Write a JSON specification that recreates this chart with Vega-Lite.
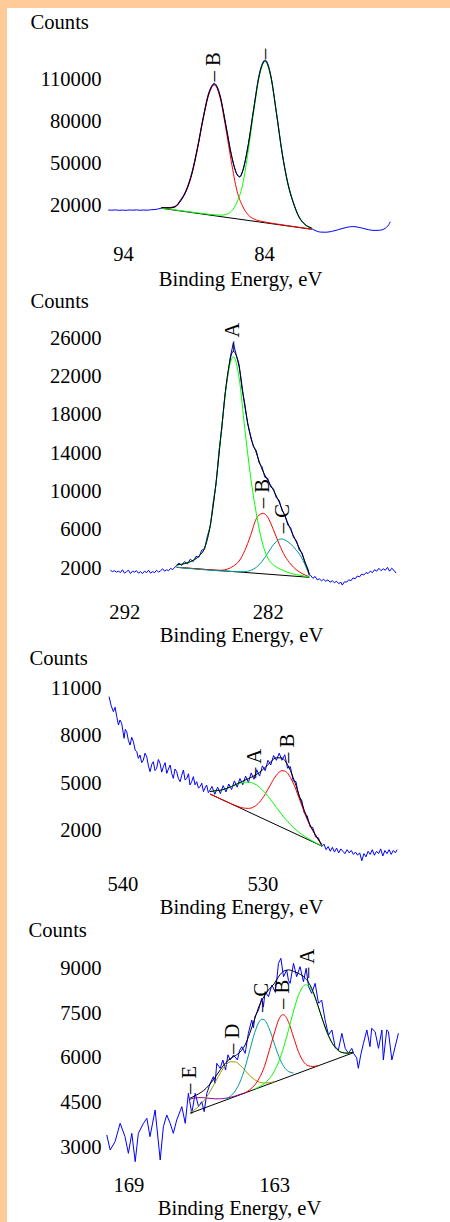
{
"$schema": "https://vega.github.io/schema/vega-lite/v6.json",
"background": "#FFCC99",
"padding": {"left": 7, "top": 8, "right": 0, "bottom": 0},
"spacing": 0,
"bounds": "flush",
"config": {
 "view": {"stroke": null, "fill": "white"},
 "axis": {"labelFont": "Liberation Serif", "labelFontSize": 20.6, "labelColor": "black", "titleFont": "Liberation Serif", "titleFontSize": 20.6, "titleFontWeight": "normal", "titleColor": "black", "domain": false, "ticks": false, "tickSize": 0, "grid": false, "labelOverlap": false, "labelFlush": false, "labelBound": false, "format": "d"},
 "line": {"strokeWidth": 1},
 "text": {"font": "Liberation Serif", "fontSize": 20.6, "color": "black"}
},
"datasets": {
 "p1b": [{"e":95.05,"v":17150},{"e":94.8,"v":17000},{"e":94.55,"v":17250},{"e":94.3,"v":16950},{"e":94.05,"v":17100},{"e":93.8,"v":16900},{"e":93.55,"v":17200},{"e":93.3,"v":17050},{"e":93.05,"v":17250},{"e":92.8,"v":16950},{"e":92.55,"v":17150},{"e":92.3,"v":17000},{"e":92.05,"v":17300},{"e":91.8,"v":17450},{"e":91.55,"v":17800},{"e":91.28,"v":18500},{"e":91.0,"v":18800},{"e":90.72,"v":18900},{"e":90.32,"v":19700},{"e":89.92,"v":24300},{"e":89.52,"v":31400},{"e":89.12,"v":43600},{"e":88.72,"v":61600},{"e":88.32,"v":82700},{"e":87.92,"v":100300},{"e":87.72,"v":105000},{"e":87.52,"v":107000},{"e":87.32,"v":104500},{"e":87.12,"v":98600},{"e":86.72,"v":78300},{"e":86.32,"v":56600},{"e":85.92,"v":42700},{"e":85.72,"v":40800},{"e":85.52,"v":44900},{"e":85.12,"v":63600},{"e":84.72,"v":90100},{"e":84.32,"v":114300},{"e":84.12,"v":121000},{"e":83.92,"v":123600},{"e":83.72,"v":120500},{"e":83.52,"v":112600},{"e":83.12,"v":86400},{"e":82.72,"v":58300},{"e":82.32,"v":36700},{"e":81.92,"v":22600},{"e":81.52,"v":12500},{"e":81.12,"v":7200},{"e":80.62,"v":3900},{"e":80.3,"v":2300},{"e":80.0,"v":1500},{"e":79.6,"v":1400},{"e":79.2,"v":2000},{"e":78.8,"v":3000},{"e":78.4,"v":4200},{"e":78.0,"v":5100},{"e":77.7,"v":5400},{"e":77.4,"v":5100},{"e":77.0,"v":4200},{"e":76.6,"v":3200},{"e":76.2,"v":2700},{"e":75.8,"v":2800},{"e":75.5,"v":3600},{"e":75.3,"v":5000},{"e":75.15,"v":6800},{"e":75.05,"v":8800}],
 "p1bg": [{"e":91.28,"v":18370},{"e":80.62,"v":3470}],
 "p1r": [{"e":91.28,"v":18815},{"e":90.72,"v":18500},{"e":90.32,"v":19200},{"e":89.92,"v":23500},{"e":89.52,"v":30500},{"e":89.12,"v":42500},{"e":88.72,"v":60500},{"e":88.32,"v":81500},{"e":87.92,"v":99000},{"e":87.52,"v":105815},{"e":87.12,"v":96912},{"e":86.72,"v":75681},{"e":86.32,"v":51483},{"e":85.92,"v":30800},{"e":85.52,"v":19867},{"e":85.12,"v":13653},{"e":84.72,"v":10795},{"e":84.32,"v":9430},{"e":83.92,"v":8592},{"e":83.52,"v":7912},{"e":83.12,"v":7288},{"e":82.72,"v":6674},{"e":82.32,"v":6078},{"e":81.92,"v":5491},{"e":81.52,"v":4904},{"e":81.12,"v":4327},{"e":80.62,"v":3609}],
 "p1g": [{"e":91.28,"v":18519},{"e":90.72,"v":17759},{"e":90.32,"v":17222},{"e":89.92,"v":16686},{"e":89.52,"v":16162},{"e":89.12,"v":15637},{"e":88.72,"v":15124},{"e":88.32,"v":14633},{"e":87.92,"v":14154},{"e":87.52,"v":13744},{"e":87.12,"v":13527},{"e":86.72,"v":13963},{"e":86.32,"v":16239},{"e":85.92,"v":22655},{"e":85.52,"v":35000},{"e":85.12,"v":59155},{"e":84.72,"v":87753},{"e":84.32,"v":112691},{"e":83.92,"v":122422},{"e":83.52,"v":111572},{"e":83.12,"v":85516},{"e":82.72,"v":57500},{"e":82.32,"v":36000},{"e":81.92,"v":22000},{"e":81.52,"v":12000},{"e":81.12,"v":7000},{"e":80.62,"v":4316}],
 "p1env": [{"e":91.28,"v":18964},{"e":90.72,"v":18672},{"e":90.32,"v":19394},{"e":89.92,"v":23717},{"e":89.52,"v":30752},{"e":89.12,"v":42786},{"e":88.72,"v":60832},{"e":88.32,"v":81900},{"e":87.92,"v":99480},{"e":87.52,"v":106444},{"e":87.12,"v":97884},{"e":86.72,"v":77648},{"e":86.32,"v":56285},{"e":85.92,"v":42300},{"e":85.72,"v":40600},{"e":85.52,"v":44500},{"e":85.12,"v":63048},{"e":84.72,"v":89347},{"e":84.32,"v":113479},{"e":83.92,"v":122932},{"e":83.52,"v":111961},{"e":83.12,"v":85840},{"e":82.72,"v":57769},{"e":82.32,"v":36232},{"e":81.92,"v":22204},{"e":81.52,"v":12176},{"e":81.12,"v":7158},{"e":80.62,"v":4455}],
 "p1lab": [{"e":87.52,"v":108300,"t":"– B"},{"e":83.92,"v":124300,"t":"–"}],
 "p2b": [{"e":292.97,"v":1800},{"e":292.83,"v":1650},{"e":292.69,"v":1750},{"e":292.55,"v":1600},{"e":292.41,"v":1700},{"e":292.27,"v":1550},{"e":292.13,"v":1850},{"e":291.99,"v":1500},{"e":291.85,"v":1650},{"e":291.71,"v":1800},{"e":291.57,"v":1450},{"e":291.43,"v":1700},{"e":291.29,"v":1600},{"e":291.15,"v":1750},{"e":291.01,"v":1500},{"e":290.87,"v":1650},{"e":290.73,"v":1450},{"e":290.59,"v":1700},{"e":290.45,"v":1550},{"e":290.31,"v":1800},{"e":290.17,"v":1500},{"e":290.03,"v":1650},{"e":289.89,"v":1550},{"e":289.75,"v":1800},{"e":289.61,"v":1600},{"e":289.47,"v":1750},{"e":289.33,"v":1950},{"e":289.19,"v":1700},{"e":289.05,"v":1850},{"e":288.91,"v":1750},{"e":288.77,"v":2000},{"e":288.63,"v":1850},{"e":288.49,"v":2100},{"e":288.35,"v":2250},{"e":288.2,"v":2550},{"e":288.0,"v":2300},{"e":287.8,"v":2700},{"e":287.6,"v":2450},{"e":287.4,"v":2950},{"e":287.2,"v":2700},{"e":287.0,"v":3250},{"e":286.8,"v":3150},{"e":286.6,"v":3900},{"e":286.4,"v":4000},{"e":286.2,"v":5400},{"e":286.0,"v":6400},{"e":285.8,"v":8900},{"e":285.6,"v":10800},{"e":285.4,"v":14200},{"e":285.2,"v":16600},{"e":285.0,"v":19900},{"e":284.8,"v":22000},{"e":284.6,"v":24100},{"e":284.4,"v":25500},{"e":284.2,"v":24300},{"e":284.0,"v":23300},{"e":283.8,"v":20800},{"e":283.6,"v":19200},{"e":283.4,"v":17100},{"e":283.2,"v":15900},{"e":283.0,"v":14700},{"e":282.8,"v":14300},{"e":282.6,"v":13000},{"e":282.4,"v":12600},{"e":282.2,"v":11500},{"e":282.0,"v":11400},{"e":281.8,"v":10500},{"e":281.6,"v":10300},{"e":281.4,"v":9350},{"e":281.2,"v":9100},{"e":281.0,"v":8000},{"e":280.8,"v":7600},{"e":280.6,"v":6500},{"e":280.4,"v":6250},{"e":280.2,"v":5200},{"e":280.0,"v":4900},{"e":279.8,"v":3900},{"e":279.6,"v":3600},{"e":279.4,"v":2550},{"e":279.2,"v":1950},{"e":279.1,"v":1300},{"e":279.0,"v":1250},{"e":278.85,"v":950},{"e":278.7,"v":1150},{"e":278.55,"v":800},{"e":278.4,"v":900},{"e":278.25,"v":700},{"e":278.1,"v":850},{"e":277.95,"v":650},{"e":277.8,"v":800},{"e":277.65,"v":550},{"e":277.5,"v":700},{"e":277.35,"v":500},{"e":277.2,"v":650},{"e":277.05,"v":400},{"e":276.9,"v":550},{"e":276.8,"v":250},{"e":276.65,"v":600},{"e":276.5,"v":550},{"e":276.35,"v":800},{"e":276.2,"v":700},{"e":276.05,"v":1000},{"e":275.9,"v":900},{"e":275.75,"v":1200},{"e":275.6,"v":1100},{"e":275.45,"v":1400},{"e":275.3,"v":1300},{"e":275.15,"v":1550},{"e":275.0,"v":1450},{"e":274.85,"v":1700},{"e":274.7,"v":1550},{"e":274.55,"v":1850},{"e":274.4,"v":1700},{"e":274.25,"v":2000},{"e":274.1,"v":1750},{"e":273.95,"v":1950},{"e":273.8,"v":1800},{"e":273.65,"v":2100},{"e":273.5,"v":1700},{"e":273.35,"v":2000},{"e":273.2,"v":1800},{"e":273.05,"v":1500}],
 "p2bg": [{"e":288.35,"v":2104},{"e":279.1,"v":1061}],
 "p2r": [{"e":288.35,"v":2104},{"e":286.0,"v":1839},{"e":285.6,"v":1794},{"e":285.2,"v":1800},{"e":284.8,"v":1925},{"e":284.4,"v":2228},{"e":284.0,"v":2751},{"e":283.6,"v":3843},{"e":283.2,"v":5408},{"e":282.8,"v":7163},{"e":282.4,"v":7718},{"e":282.31,"v":7740},{"e":282.0,"v":7326},{"e":281.6,"v":6018},{"e":281.2,"v":4520},{"e":280.8,"v":3274},{"e":280.4,"v":2440},{"e":280.0,"v":1845},{"e":279.6,"v":1445},{"e":279.1,"v":1124}],
 "p2t": [{"e":288.35,"v":2104},{"e":284.4,"v":1659},{"e":284.0,"v":1638},{"e":283.6,"v":1653},{"e":283.2,"v":1773},{"e":282.8,"v":2096},{"e":282.4,"v":2707},{"e":282.0,"v":3571},{"e":281.6,"v":4462},{"e":281.2,"v":5009},{"e":281.02,"v":5058},{"e":280.8,"v":4957},{"e":280.4,"v":4534},{"e":280.0,"v":3885},{"e":279.6,"v":3007},{"e":279.3,"v":2029},{"e":279.1,"v":1250}],
 "p2g": [{"e":288.35,"v":2351},{"e":288.0,"v":2424},{"e":287.6,"v":2581},{"e":287.2,"v":2827},{"e":286.8,"v":3275},{"e":286.4,"v":4126},{"e":286.0,"v":6547},{"e":285.6,"v":10986},{"e":285.2,"v":16770},{"e":284.8,"v":21994},{"e":284.4,"v":24079},{"e":284.0,"v":21904},{"e":283.6,"v":16590},{"e":283.2,"v":11612},{"e":282.8,"v":7756},{"e":282.4,"v":4796},{"e":282.0,"v":3070},{"e":281.6,"v":2352},{"e":281.2,"v":1971},{"e":280.8,"v":1701},{"e":280.4,"v":1477},{"e":280.0,"v":1342},{"e":279.6,"v":1229},{"e":279.1,"v":1106}],
 "p2env": [{"e":288.35,"v":2351},{"e":288.0,"v":2424},{"e":287.6,"v":2581},{"e":287.2,"v":2827},{"e":286.8,"v":3275},{"e":286.4,"v":4126},{"e":286.0,"v":6547},{"e":285.6,"v":10986},{"e":285.2,"v":16821},{"e":284.8,"v":22215},{"e":284.4,"v":24648},{"e":284.0,"v":23065},{"e":283.6,"v":18948},{"e":283.2,"v":15747},{"e":282.8,"v":14059},{"e":282.4,"v":12355},{"e":282.0,"v":11191},{"e":281.6,"v":10146},{"e":281.2,"v":8904},{"e":280.8,"v":7426},{"e":280.4,"v":6035},{"e":280.0,"v":4746},{"e":279.6,"v":3447},{"e":279.3,"v":2259},{"e":279.1,"v":1358}],
 "p2lab": [{"e":284.4,"v":24600,"t":"– A"},{"e":282.31,"v":8261,"t":"– B"},{"e":280.95,"v":5652,"t":"– C"}],
 "p3b": [{"e":540.95,"v":10470},{"e":540.8,"v":9900},{"e":540.64,"v":9522},{"e":540.52,"v":9800},{"e":540.4,"v":9206},{"e":540.28,"v":8679},{"e":540.17,"v":9000},{"e":540.05,"v":8785},{"e":539.96,"v":8300},{"e":539.88,"v":7836},{"e":539.79,"v":8400},{"e":539.69,"v":8258},{"e":539.57,"v":7700},{"e":539.45,"v":7415},{"e":539.33,"v":7900},{"e":539.21,"v":7626},{"e":539.09,"v":7100},{"e":538.97,"v":6994},{"e":538.86,"v":6572},{"e":538.74,"v":6783},{"e":538.62,"v":6300},{"e":538.5,"v":6467},{"e":538.38,"v":6900},{"e":538.26,"v":6678},{"e":538.14,"v":6100},{"e":538.02,"v":5730},{"e":537.9,"v":6200},{"e":537.79,"v":6362},{"e":537.67,"v":5800},{"e":537.55,"v":5940},{"e":537.43,"v":6500},{"e":537.31,"v":6256},{"e":537.19,"v":5700},{"e":537.07,"v":6046},{"e":536.95,"v":6300},{"e":536.83,"v":5624},{"e":536.71,"v":5900},{"e":536.59,"v":6151},{"e":536.47,"v":5600},{"e":536.36,"v":5308},{"e":536.24,"v":5900},{"e":536.12,"v":5729},{"e":536.0,"v":5300},{"e":535.88,"v":5097},{"e":535.76,"v":5500},{"e":535.64,"v":5835},{"e":535.52,"v":5200},{"e":535.4,"v":5308},{"e":535.28,"v":5600},{"e":535.17,"v":4887},{"e":535.05,"v":5100},{"e":534.93,"v":5414},{"e":534.81,"v":4900},{"e":534.69,"v":5097},{"e":534.57,"v":4700},{"e":534.45,"v":4781},{"e":534.33,"v":5000},{"e":534.21,"v":4465},{"e":534.1,"v":4700},{"e":533.98,"v":4887},{"e":533.86,"v":4400},{"e":533.74,"v":4571},{"e":533.6,"v":4800},{"e":533.4,"v":4300},{"e":533.2,"v":4750},{"e":533.0,"v":4350},{"e":532.8,"v":4850},{"e":532.6,"v":4450},{"e":532.4,"v":4950},{"e":532.2,"v":4600},{"e":532.0,"v":5150},{"e":531.8,"v":4750},{"e":531.6,"v":5300},{"e":531.4,"v":4900},{"e":531.2,"v":5450},{"e":531.0,"v":5050},{"e":530.8,"v":5650},{"e":530.6,"v":5250},{"e":530.4,"v":5850},{"e":530.2,"v":5450},{"e":530.0,"v":6100},{"e":529.8,"v":5800},{"e":529.6,"v":6450},{"e":529.4,"v":6150},{"e":529.2,"v":6750},{"e":529.0,"v":6450},{"e":528.8,"v":6900},{"e":528.6,"v":6450},{"e":528.4,"v":6800},{"e":528.2,"v":5950},{"e":528.0,"v":6050},{"e":527.8,"v":5150},{"e":527.6,"v":5100},{"e":527.4,"v":4150},{"e":527.2,"v":3950},{"e":527.0,"v":3100},{"e":526.8,"v":2950},{"e":526.6,"v":2250},{"e":526.4,"v":2200},{"e":526.2,"v":1600},{"e":526.0,"v":1550},{"e":525.76,"v":1000},{"e":525.6,"v":1150},{"e":525.45,"v":800},{"e":525.3,"v":1000},{"e":525.15,"v":700},{"e":525.0,"v":950},{"e":524.85,"v":650},{"e":524.7,"v":900},{"e":524.55,"v":600},{"e":524.4,"v":850},{"e":524.25,"v":700},{"e":524.1,"v":550},{"e":523.95,"v":800},{"e":523.8,"v":600},{"e":523.65,"v":750},{"e":523.5,"v":500},{"e":523.35,"v":650},{"e":523.2,"v":450},{"e":523.05,"v":600},{"e":522.9,"v":100},{"e":522.75,"v":550},{"e":522.6,"v":350},{"e":522.45,"v":700},{"e":522.3,"v":500},{"e":522.15,"v":800},{"e":522.0,"v":450},{"e":521.85,"v":700},{"e":521.7,"v":550},{"e":521.55,"v":850},{"e":521.4,"v":400},{"e":521.25,"v":750},{"e":521.1,"v":550},{"e":520.95,"v":800},{"e":520.8,"v":500},{"e":520.65,"v":750},{"e":520.5,"v":600},{"e":520.38,"v":800}],
 "p3bg": [{"e":533.74,"v":4319},{"e":525.76,"v":1033}],
 "p3r": [{"e":533.74,"v":4319},{"e":532.2,"v":3694},{"e":531.8,"v":3550},{"e":531.4,"v":3442},{"e":531.0,"v":3409},{"e":530.6,"v":3512},{"e":530.2,"v":3807},{"e":529.8,"v":4309},{"e":529.4,"v":4938},{"e":529.0,"v":5509},{"e":528.6,"v":5793},{"e":528.4,"v":5771},{"e":528.2,"v":5628},{"e":527.8,"v":5015},{"e":527.4,"v":4114},{"e":527.0,"v":3156},{"e":526.6,"v":2325},{"e":526.2,"v":1700},{"e":525.76,"v":1113}],
 "p3g": [{"e":533.74,"v":4469},{"e":533.4,"v":4521},{"e":533.0,"v":4556},{"e":532.6,"v":4652},{"e":532.2,"v":4789},{"e":531.8,"v":4936},{"e":531.4,"v":5047},{"e":531.0,"v":5073},{"e":530.6,"v":4976},{"e":530.2,"v":4743},{"e":529.8,"v":4388},{"e":529.4,"v":3948},{"e":529.0,"v":3471},{"e":528.6,"v":3005},{"e":528.2,"v":2580},{"e":527.8,"v":2215},{"e":527.4,"v":1908},{"e":527.0,"v":1653},{"e":526.6,"v":1435},{"e":526.2,"v":1240},{"e":525.76,"v":1043}],
 "p3env": [{"e":533.74,"v":4469},{"e":533.4,"v":4522},{"e":533.0,"v":4559},{"e":532.6,"v":4657},{"e":532.2,"v":4798},{"e":531.8,"v":4966},{"e":531.4,"v":5133},{"e":531.0,"v":5291},{"e":530.6,"v":5462},{"e":530.2,"v":5689},{"e":529.8,"v":6000},{"e":529.4,"v":6354},{"e":529.0,"v":6613},{"e":528.6,"v":6595},{"e":528.4,"v":6435},{"e":528.2,"v":6170},{"e":527.8,"v":5357},{"e":527.4,"v":4314},{"e":527.0,"v":3265},{"e":526.6,"v":2381},{"e":526.2,"v":1726},{"e":525.76,"v":1123}],
 "p3lab": [{"e":530.52,"v":5331,"t":"– A"},{"e":528.14,"v":6279,"t":"– B"}],
 "p4b": [{"e":169.89,"v":3412},{"e":169.75,"v":2910},{"e":169.55,"v":3189},{"e":169.34,"v":3804},{"e":169.14,"v":3357},{"e":169.0,"v":2798},{"e":168.86,"v":3468},{"e":168.72,"v":2519},{"e":168.59,"v":3468},{"e":168.38,"v":3804},{"e":168.24,"v":3971},{"e":168.11,"v":3357},{"e":167.9,"v":4250},{"e":167.69,"v":2575},{"e":167.56,"v":3692},{"e":167.42,"v":4083},{"e":167.28,"v":3804},{"e":167.15,"v":3468},{"e":167.01,"v":3915},{"e":166.8,"v":4362},{"e":166.66,"v":3804},{"e":166.53,"v":4809},{"e":166.39,"v":4139},{"e":166.25,"v":4809},{"e":166.11,"v":4362},{"e":165.98,"v":4530},{"e":165.88,"v":4195},{"e":165.77,"v":4809},{"e":165.63,"v":5144},{"e":165.5,"v":5368},{"e":165.43,"v":5150},{"e":165.36,"v":5815},{"e":165.22,"v":5647},{"e":165.11,"v":5926},{"e":165.0,"v":5591},{"e":164.9,"v":6100},{"e":164.81,"v":5926},{"e":164.67,"v":6094},{"e":164.51,"v":5926},{"e":164.42,"v":6250},{"e":164.33,"v":6373},{"e":164.19,"v":6150},{"e":164.06,"v":6820},{"e":163.92,"v":7267},{"e":163.85,"v":7000},{"e":163.79,"v":7379},{"e":163.64,"v":7602},{"e":163.51,"v":7993},{"e":163.44,"v":7700},{"e":163.37,"v":8217},{"e":163.23,"v":8049},{"e":163.09,"v":8440},{"e":162.96,"v":8217},{"e":162.89,"v":8600},{"e":162.82,"v":9166},{"e":162.72,"v":9334},{"e":162.61,"v":8719},{"e":162.48,"v":8943},{"e":162.41,"v":8600},{"e":162.34,"v":8496},{"e":162.2,"v":9166},{"e":162.07,"v":8719},{"e":161.93,"v":9055},{"e":161.79,"v":8552},{"e":161.68,"v":8999},{"e":161.58,"v":8384},{"e":161.45,"v":8161},{"e":161.31,"v":8496},{"e":161.17,"v":7826},{"e":161.04,"v":7937},{"e":160.9,"v":7267},{"e":160.76,"v":6764},{"e":160.62,"v":6932},{"e":160.49,"v":6373},{"e":160.35,"v":6262},{"e":160.21,"v":6820},{"e":160.07,"v":6317},{"e":159.94,"v":6150},{"e":159.8,"v":6317},{"e":159.73,"v":6150},{"e":159.6,"v":6000},{"e":159.53,"v":5647},{"e":159.43,"v":6100},{"e":159.32,"v":6485},{"e":159.18,"v":6932},{"e":159.05,"v":6373},{"e":158.98,"v":6988},{"e":158.84,"v":6876},{"e":158.7,"v":6317},{"e":158.56,"v":6932},{"e":158.5,"v":5926},{"e":158.36,"v":6932},{"e":158.29,"v":6876},{"e":158.15,"v":5926},{"e":158.08,"v":6150},{"e":157.88,"v":6820}],
 "p4bg": [{"e":166.46,"v":4140},{"e":159.73,"v":6171}],
 "p4E": [{"e":166.46,"v":4610},{"e":166.2,"v":4661},{"e":166.0,"v":4666},{"e":165.8,"v":4653},{"e":165.6,"v":4636},{"e":165.4,"v":4624},{"e":165.2,"v":4626},{"e":165.0,"v":4645},{"e":164.8,"v":4676},{"e":164.6,"v":4719},{"e":164.4,"v":4770},{"e":164.2,"v":4826}],
 "p4D": [{"e":166.46,"v":4171},{"e":166.2,"v":4308},{"e":166.0,"v":4459},{"e":165.8,"v":4662},{"e":165.6,"v":4922},{"e":165.4,"v":5219},{"e":165.2,"v":5511},{"e":165.0,"v":5743},{"e":164.8,"v":5867},{"e":164.6,"v":5863},{"e":164.4,"v":5753},{"e":164.2,"v":5581},{"e":164.0,"v":5404},{"e":163.8,"v":5266},{"e":163.6,"v":5183},{"e":163.4,"v":5154},{"e":163.2,"v":5164},{"e":163.0,"v":5200}],
 "p4C": [{"e":165.0,"v":4603},{"e":164.8,"v":4712},{"e":164.6,"v":4891},{"e":164.4,"v":5196},{"e":164.2,"v":5661},{"e":164.0,"v":6253},{"e":163.8,"v":6840},{"e":163.6,"v":7226},{"e":163.51,"v":7291},{"e":163.4,"v":7269},{"e":163.2,"v":6974},{"e":163.0,"v":6499},{"e":162.8,"v":6036},{"e":162.6,"v":5708},{"e":162.4,"v":5539},{"e":162.2,"v":5489}],
 "p4R": [{"e":164.2,"v":4822},{"e":164.0,"v":4932},{"e":163.8,"v":5083},{"e":163.6,"v":5333},{"e":163.4,"v":5704},{"e":163.2,"v":6244},{"e":163.0,"v":6797},{"e":162.8,"v":7296},{"e":162.66,"v":7441},{"e":162.6,"v":7440},{"e":162.4,"v":7185},{"e":162.2,"v":6695},{"e":162.0,"v":6211},{"e":161.8,"v":5885},{"e":161.6,"v":5737},{"e":161.4,"v":5708},{"e":161.2,"v":5737}],
 "p4A": [{"e":163.8,"v":4955},{"e":163.6,"v":5034},{"e":163.4,"v":5141},{"e":163.2,"v":5297},{"e":163.0,"v":5536},{"e":162.8,"v":5890},{"e":162.6,"v":6369},{"e":162.4,"v":6953},{"e":162.2,"v":7564},{"e":162.0,"v":8084},{"e":161.8,"v":8396},{"e":161.72,"v":8444},{"e":161.6,"v":8427},{"e":161.4,"v":8187},{"e":161.2,"v":7758},{"e":161.0,"v":7265},{"e":160.8,"v":6819},{"e":160.6,"v":6484},{"e":160.4,"v":6276},{"e":160.2,"v":6178},{"e":160.0,"v":6155},{"e":159.73,"v":6189}],
 "p4env": [{"e":166.46,"v":4641},{"e":166.2,"v":4751},{"e":166.0,"v":4846},{"e":165.8,"v":4976},{"e":165.6,"v":5158},{"e":165.4,"v":5383},{"e":165.2,"v":5617},{"e":165.0,"v":5829},{"e":164.8,"v":5973},{"e":164.6,"v":6071},{"e":164.4,"v":6195},{"e":164.2,"v":6424},{"e":164.0,"v":6825},{"e":163.8,"v":7303},{"e":163.6,"v":7767},{"e":163.4,"v":8076},{"e":163.2,"v":8307},{"e":163.0,"v":8480},{"e":162.8,"v":8738},{"e":162.6,"v":8907},{"e":162.4,"v":8947},{"e":162.2,"v":8896},{"e":162.0,"v":8829},{"e":161.8,"v":8735},{"e":161.6,"v":8557},{"e":161.4,"v":8228},{"e":161.2,"v":7768},{"e":161.0,"v":7265},{"e":160.8,"v":6819},{"e":160.6,"v":6484},{"e":160.4,"v":6276},{"e":160.2,"v":6178},{"e":160.0,"v":6155},{"e":159.73,"v":6189}],
 "p4lab": [{"e":166.46,"v":4787,"t":"– E"},{"e":164.68,"v":6127,"t":"– D"},{"e":163.51,"v":7535,"t":"– C"},{"e":162.64,"v":7636,"t":"– B"},{"e":161.6,"v":8675,"t":"– A"}]
},
"vconcat": [
 {
  "width": 443, "height": 283,
  "encoding": {
   "x": {"field": "e", "type": "quantitative", "scale": {"domain": [70.81, 102.23], "reverse": true, "nice": false, "zero": false}, "axis": {"orient": "bottom", "offset": -37, "values": [94, 84], "labelPadding": 0, "labelBaseline": "middle", "title": "Binding Energy, eV", "titleX": 233, "titleY": 31, "titleAlign": "center", "titleBaseline": "alphabetic"}},
   "y": {"field": "v", "type": "quantitative", "scale": {"domain": [-40284, 160420], "nice": false, "zero": false}, "axis": {"orient": "left", "offset": -99, "values": [20000, 50000, 80000, 110000], "labelPadding": 5, "labelBaseline": "middle", "title": "Counts", "titleAngle": 0, "titleX": -76, "titleY": 20, "titleAlign": "left", "titleBaseline": "alphabetic"}}
  },
  "layer": [
   {"data": {"name": "p1b"}, "mark": {"type": "line", "color": "#0000FF", "interpolate": "monotone"}},
   {"data": {"name": "p1bg"}, "mark": {"type": "line", "color": "#000000"}},
   {"data": {"name": "p1r"}, "mark": {"type": "line", "color": "#FF0000", "interpolate": "monotone"}},
   {"data": {"name": "p1g"}, "mark": {"type": "line", "color": "#00FF00", "interpolate": "monotone"}},
   {"data": {"name": "p1env"}, "mark": {"type": "line", "color": "#000000", "interpolate": "monotone"}},
   {"data": {"name": "p1lab"}, "mark": {"type": "text", "angle": 270, "align": "left", "baseline": "middle"}, "encoding": {"text": {"field": "t"}}}
  ]
 },
 {
  "width": 443, "height": 356,
  "encoding": {
   "x": {"field": "e", "type": "quantitative", "scale": {"domain": [269.29, 300.18], "reverse": true, "nice": false, "zero": false}, "axis": {"orient": "bottom", "offset": -35, "values": [292, 282], "labelPadding": 0, "labelBaseline": "middle", "title": "Binding Energy, eV", "titleX": 234, "titleY": 29, "titleAlign": "center", "titleBaseline": "alphabetic"}},
   "y": {"field": "v", "type": "quantitative", "scale": {"domain": [-6212, 30936], "nice": false, "zero": false}, "axis": {"orient": "left", "offset": -99, "values": [2000, 6000, 10000, 14000, 18000, 22000, 26000], "labelPadding": 5, "labelBaseline": "middle", "title": "Counts", "titleAngle": 0, "titleX": -76, "titleY": 16, "titleAlign": "left", "titleBaseline": "alphabetic"}}
  },
  "layer": [
   {"data": {"name": "p2b"}, "mark": {"type": "line", "color": "#0000FF"}},
   {"data": {"name": "p2bg"}, "mark": {"type": "line", "color": "#000000"}},
   {"data": {"name": "p2r"}, "mark": {"type": "line", "color": "#FF0000", "interpolate": "monotone"}},
   {"data": {"name": "p2t"}, "mark": {"type": "line", "color": "#009999", "interpolate": "monotone"}},
   {"data": {"name": "p2g"}, "mark": {"type": "line", "color": "#00FF00", "interpolate": "monotone"}},
   {"data": {"name": "p2env"}, "mark": {"type": "line", "color": "#000000", "interpolate": "monotone"}},
   {"data": {"name": "p2lab"}, "mark": {"type": "text", "angle": 270, "align": "left", "baseline": "middle"}, "encoding": {"text": {"field": "t"}}}
  ]
 },
 {
  "width": 443, "height": 273,
  "encoding": {
   "x": {"field": "e", "type": "quantitative", "scale": {"domain": [516.6, 548.24], "reverse": true, "nice": false, "zero": false}, "axis": {"orient": "bottom", "offset": -36, "values": [540, 530], "labelPadding": 0, "labelBaseline": "middle", "title": "Binding Energy, eV", "titleX": 234, "titleY": 29, "titleAlign": "center", "titleBaseline": "alphabetic"}},
   "y": {"field": "v", "type": "quantitative", "scale": {"domain": [-3644, 13610], "nice": false, "zero": false}, "axis": {"orient": "left", "offset": -99, "values": [2000, 5000, 8000, 11000], "labelPadding": 5, "labelBaseline": "middle", "title": "Counts", "titleAngle": 0, "titleX": -77, "titleY": 17, "titleAlign": "left", "titleBaseline": "alphabetic"}}
  },
  "layer": [
   {"data": {"name": "p3b"}, "mark": {"type": "line", "color": "#0000FF"}},
   {"data": {"name": "p3bg"}, "mark": {"type": "line", "color": "#000000"}},
   {"data": {"name": "p3r"}, "mark": {"type": "line", "color": "#FF0000", "interpolate": "monotone"}},
   {"data": {"name": "p3g"}, "mark": {"type": "line", "color": "#00FF00", "interpolate": "monotone"}},
   {"data": {"name": "p3env"}, "mark": {"type": "line", "color": "#000000", "interpolate": "monotone"}},
   {"data": {"name": "p3lab"}, "mark": {"type": "text", "angle": 270, "align": "left", "baseline": "middle"}, "encoding": {"text": {"field": "t"}}}
  ]
 },
 {
  "width": 443, "height": 302,
  "encoding": {
   "x": {"field": "e", "type": "quantitative", "scale": {"domain": [155.755, 174.0], "reverse": true, "nice": false, "zero": false}, "axis": {"orient": "bottom", "offset": -37, "values": [169, 163], "labelPadding": 0, "labelBaseline": "middle", "title": "Binding Energy, eV", "titleX": 232, "titleY": 29, "titleAlign": "center", "titleBaseline": "alphabetic"}},
   "y": {"field": "v", "type": "quantitative", "scale": {"domain": [496, 10619], "nice": false, "zero": false}, "axis": {"orient": "left", "offset": -99, "values": [3000, 4500, 6000, 7500, 9000], "labelPadding": 5, "labelBaseline": "middle", "title": "Counts", "titleAngle": 0, "titleX": -78, "titleY": 16, "titleAlign": "left", "titleBaseline": "alphabetic"}}
  },
  "layer": [
   {"data": {"name": "p4b"}, "mark": {"type": "line", "color": "#0000FF"}},
   {"data": {"name": "p4bg"}, "mark": {"type": "line", "color": "#000000"}},
   {"data": {"name": "p4E"}, "mark": {"type": "line", "color": "#990099", "interpolate": "monotone"}},
   {"data": {"name": "p4D"}, "mark": {"type": "line", "color": "#999900", "interpolate": "monotone"}},
   {"data": {"name": "p4C"}, "mark": {"type": "line", "color": "#009999", "interpolate": "monotone"}},
   {"data": {"name": "p4R"}, "mark": {"type": "line", "color": "#FF0000", "interpolate": "monotone"}},
   {"data": {"name": "p4A"}, "mark": {"type": "line", "color": "#00FF00", "interpolate": "monotone"}},
   {"data": {"name": "p4env"}, "mark": {"type": "line", "color": "#000000", "interpolate": "monotone"}},
   {"data": {"name": "p4lab"}, "mark": {"type": "text", "angle": 270, "align": "left", "baseline": "middle"}, "encoding": {"text": {"field": "t"}}}
  ]
 }
]
}
